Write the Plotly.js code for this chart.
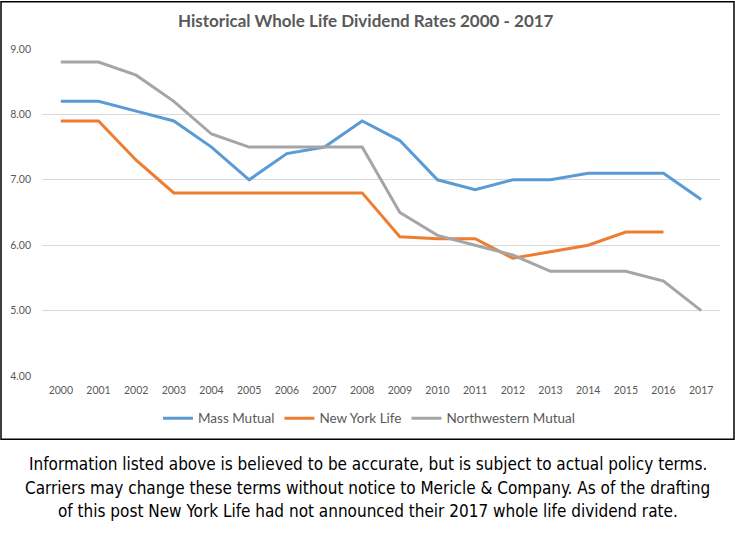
<!DOCTYPE html>
<html>
<head>
<meta charset="utf-8">
<script src="https://cdn.plot.ly/plotly-3.0.1.min.js"></script>
<style>
html,body{margin:0;padding:0;background:#fff;}
#chart{width:735px;height:533px;}
</style>
</head>
<body>
<div id="chart"></div>
<script>
const years = ["2000","2001","2002","2003","2004","2005","2006","2007","2008","2009","2010","2011","2012","2013","2014","2015","2016","2017"];
const massMutual   = [8.20,8.20,8.05,7.90,7.50,7.00,7.40,7.50,7.90,7.60,7.00,6.85,7.00,7.00,7.10,7.10,7.10,6.70];
const newYorkLife  = [7.90,7.90,7.30,6.80,6.80,6.80,6.80,6.80,6.80,6.13,6.10,6.10,5.80,5.90,6.00,6.20,6.20,null];
const northwestern = [8.80,8.80,8.60,8.20,7.70,7.50,7.50,7.50,7.50,6.50,6.15,6.00,5.85,5.60,5.60,5.60,5.45,5.00];
const seriesNames = ["Mass Mutual","New York Life","Northwestern Mutual"];
const yTicks = [4,5,6,7,8,9];
const yTickText = ["4.00","5.00","6.00","7.00","8.00","9.00"];
const titleText = "Historical Whole Life Dividend Rates 2000 - 2017";
const captionLines = [
  "Information listed above is believed to be accurate, but is subject to actual policy terms.",
  "Carriers may change these terms without notice to Mericle &amp; Company. As of the drafting",
  "of this post New York Life had not announced their 2017 whole life dividend rate."
];

const colors = ["#5B9BD5","#ED7D31","#A5A5A5"];
const values = [massMutual, newYorkLife, northwestern];

const traces = values.map((v,i)=>({
  type:"scatter", mode:"lines", x:years, y:v, name:seriesNames[i],
  line:{color:colors[i], width:3}, connectgaps:false, hoverinfo:"skip"
}));

const L=42, R=15, T=48.5, B=156.5;
const W=735, H=533;
const pw = W-L-R, ph = H-T-B;
const px = p => (p-L)/pw;
const py = p => (H-B-p)/ph;

const captionY = [465, 488.5, 512];
const annotations = captionLines.map((t,i)=>({
  xref:"paper", yref:"paper", x:px(367.5), y:py(captionY[i]),
  xanchor:"center", yanchor:"middle", showarrow:false, text:t,
  font:{family:"Liberation Sans Narrow, DejaVu Sans Condensed, Arial Narrow, sans-serif", size:17, color:"#000"}
}));
annotations.push({
  xref:"paper", yref:"paper", x:px(366), y:py(20), xanchor:"center", yanchor:"middle",
  showarrow:false, text:titleText,
  font:{family:"Lato, sans-serif", size:17, color:"#595959", weight:700}
});

const layout = {
  width:W, height:H,
  margin:{l:L, r:R, t:T, b:B, pad:0},
  paper_bgcolor:"#fff", plot_bgcolor:"#fff",
  showlegend:true,
  legend:{orientation:"h", x:px(369), y:py(419), xanchor:"center", yanchor:"middle",
    font:{family:"Lato, sans-serif", size:13.5, color:"#595959"}, itemwidth:30, tracegroupgap:0,
    bgcolor:"rgba(0,0,0,0)"},
  xaxis:{type:"category", range:[-0.5,17.5], showgrid:false, zeroline:false, showline:false,
    ticks:"", ticklabelstandoff:6, fixedrange:true,
    tickfont:{family:"Lato, sans-serif", size:10.5, color:"#595959"}},
  yaxis:{range:[4,9], tickvals:yTicks, ticktext:yTickText, showgrid:true, gridcolor:"#D9D9D9", gridwidth:1,
    zeroline:false, showline:false, ticks:"", ticklabelstandoff:10, fixedrange:true,
    tickfont:{family:"Lato, sans-serif", size:10.5, color:"#595959"}},
  shapes:[{type:"rect", xref:"paper", yref:"paper", x0:px(1), x1:px(734), y0:py(440), y1:py(1),
    line:{color:"#000", width:1.5}, fillcolor:"rgba(0,0,0,0)", layer:"below"}],
  annotations:annotations,
  hovermode:false
};

Plotly.newPlot("chart", traces, layout, {displayModeBar:false, staticPlot:true});
</script>
</body>
</html>
